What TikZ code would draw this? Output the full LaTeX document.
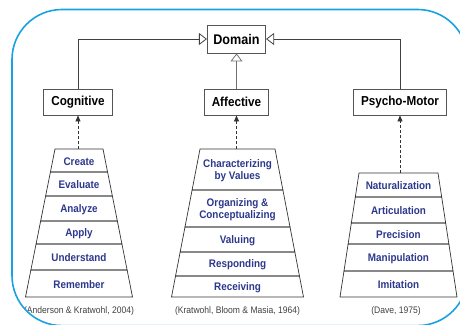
\documentclass[tikz,border=0pt]{standalone}
\usepackage{fontspec}
\setmainfont{Liberation Sans}[FakeStretch=0.9]
\usetikzlibrary{arrows.meta}

\definecolor{frameblue}{RGB}{24,162,226}
\definecolor{levelblue}{RGB}{44,56,140}
\definecolor{boxgray}{RGB}{85,85,85}

\begin{document}
\begin{tikzpicture}[
      x=1pt, y=-1pt,
      main node/.style={draw=boxgray, line width=0.9pt, fill=white, font=\fontsize{13}{15}\selectfont\bfseries, inner xsep=7.5pt, minimum height=26pt},
      level/.style={text=levelblue, font=\fontsize{11}{12.5}\selectfont\bfseries, align=center, inner sep=0pt},
      layer/.style={draw=black!80, line width=0.7pt},
      source/.style={text=black!75, font=\fontsize{9.5}{11}\selectfont},
      inherit/.style={draw=black!75, line width=0.8pt, -{Triangle[open, length=8pt, width=12pt]}},
      realize/.style={draw=black!80, line width=0.7pt, dash pattern=on 3pt off 2pt, -{Triangle[length=6pt, width=5pt]}}
    ]
    \useasboundingbox (0,0) rectangle (460,324);

    \begin{scope}
    \clip[rounded corners=50pt] (12,9.5) rectangle (467.6,325.6);

    % Top classes
    \node (domain) [main node, font=\fontsize{14}{16}\selectfont\bfseries, inner xsep=6pt, minimum height=28pt] at (236.5,39) {Domain};
    \node (cognitive) [main node] at (78,102) {Cognitive};
    \node (affective) [main node] at (236.5,102) {Affective};
    \node (psychomotor) [main node] at (400,102) {Psycho-Motor};

    % Cognitive levels
    \foreach \ya/\yb/\name/\txt in {149/172/create/Create, 172/196/evaluate/Evaluate, 196/221/analyze/Analyze,
        221/244/apply/Apply, 244/270/understand/Understand, 270/297/remember/Remember} {
      \pgfmathsetmacro\wa{24+(\ya-149)*29.5/148}
      \pgfmathsetmacro\wb{24+(\yb-149)*29.5/148}
      \draw[layer] (79-\wa,\ya) -- (79+\wa,\ya) -- (79+\wb,\yb) -- (79-\wb,\yb) -- cycle;
      \node (\name) [level] at (79,{(\ya+\yb)/2+1}) {\txt};
    }

    % Affective levels
    \foreach \ya/\yb/\name/\txt in {149/190/characterizing/{Characterizing\\by Values}, 190/227/organizing/{Organizing \&\\Conceptualizing},
        227/252/valuing/Valuing, 252/276/responding/Responding, 276/297/receiving/Receiving} {
      \pgfmathsetmacro\wa{37.5+(\ya-149)*28.5/148}
      \pgfmathsetmacro\wb{37.5+(\yb-149)*28.5/148}
      \draw[layer] (237.5-\wa,\ya) -- (237.5+\wa,\ya) -- (237.5+\wb,\yb) -- (237.5-\wb,\yb) -- cycle;
      \node (\name) [level] at (237.5,{(\ya+\yb)/2+1}) {\txt};
    }

    % Psycho-motor levels
    \foreach \ya/\yb/\name/\txt in {173/197/naturalization/Naturalization, 197/223/articulation/Articulation, 223/244/precision/Precision,
        244/271/manipulation/Manipulation, 271/297/imitation/Imitation} {
      \pgfmathsetmacro\wa{39.5+(\ya-173)*19/124}
      \pgfmathsetmacro\wb{39.5+(\yb-173)*19/124}
      \draw[layer] (398.5-\wa,\ya) -- (398.5+\wa,\ya) -- (398.5+\wb,\yb) -- (398.5-\wb,\yb) -- cycle;
      \node (\name) [level] at (398.5,{(\ya+\yb)/2+1}) {\txt};
    }

    % Sources
    \node (andersonsrc) [source] at (79,311) {(Anderson \& Kratwohl, 2004)};
    \node (kratwohlsrc) [source] at (237.5,311) {(Kratwohl, Bloom \& Masia, 1964)};
    \node (davesrc) [source] at (396,311) {(Dave, 1975)};

    % Classes inheriting from Domain
    \draw[inherit] (cognitive) |- (domain);
    \draw[inherit] (psychomotor) |- (domain);
    \draw[inherit, draw=black!55] (affective) -- (domain);

    % Taxonomies realizing the classes
    \coordinate (cogtop) at (78,149);
    \coordinate (afftop) at (236.5,149);
    \coordinate (psytop) at (400,173);
    \draw[realize] (cogtop) -- (cognitive);
    \draw[realize] (afftop) -- (affective);
    \draw[realize] (psytop) -- (psychomotor);
    \end{scope}

    \draw[frameblue, line width=1.6pt, rounded corners=50pt] (12,9.5) rectangle (467.6,325.6);
  \end{tikzpicture}
\end{document}
